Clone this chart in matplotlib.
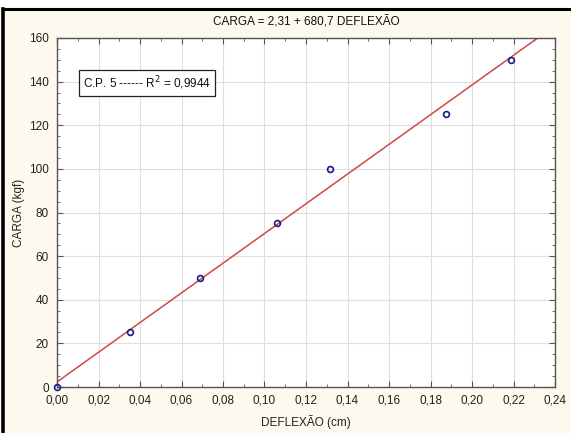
import matplotlib
matplotlib.use("Agg")
import matplotlib.pyplot as plt
from matplotlib.patches import Rectangle
from matplotlib.lines import Line2D
from matplotlib.ticker import MultipleLocator, FuncFormatter

plt.rcParams["font.family"] = ["Liberation Sans", "DejaVu Sans"]

# data
deflexao = [0.0, 0.035, 0.069, 0.106, 0.1315, 0.1875, 0.219]
carga = [0, 25, 50, 75, 100, 125, 150]
intercept = 2.31
slope = 680.7
fit_x = [0.0, 0.24]

title = "CARGA = 2,31 + 680,7 DEFLEXÃO"
legend_text = "C.P. 5 ------ R$^2$ = 0,9944"

W, H = 571, 433
fig = plt.figure(figsize=(W / 100, H / 100), dpi=100)
fig.patch.set_facecolor("white")

# cream panel with black edge on top and left
fig.patches.append(Rectangle((5 / W, 0), 1, 1 - 10 / H, transform=fig.transFigure,
                             facecolor="#fdf9ee", edgecolor="none", zorder=-2))
fig.lines.append(Line2D([4 / W, 1], [1 - 9 / H, 1 - 9 / H], transform=fig.transFigure,
                        color="black", lw=2.2, zorder=-1))
fig.lines.append(Line2D([3 / W, 3 / W], [0, 1 - 9 / H], transform=fig.transFigure,
                        color="black", lw=2.6, zorder=-1))

ax = fig.add_axes([57 / W, 1 - 387 / H, (555 - 57) / W, (387 - 38) / H])
ax.set_zorder(1)
ax.set_facecolor("white")

fit_y = [intercept + slope * x for x in fit_x]
ax.plot(fit_x, fit_y, color="#d04848", lw=1.1, zorder=2)
ax.plot(deflexao, carga, "o", mfc="none", mec="#1a1a8c", mew=1.2, ms=4.2, zorder=3,
        clip_on=False)

ax.set_xlim(0, 0.24)
ax.set_ylim(0, 160)
ax.xaxis.set_major_locator(MultipleLocator(0.02))
ax.yaxis.set_major_locator(MultipleLocator(20))
ax.xaxis.set_minor_locator(MultipleLocator(0.01))
ax.yaxis.set_minor_locator(MultipleLocator(5))
ax.xaxis.set_major_formatter(FuncFormatter(lambda v, p: f"{v:.2f}".replace(".", ",")))
ax.yaxis.set_major_formatter(FuncFormatter(lambda v, p: f"{v:.0f}"))
ax.grid(True, which="major", color="#dedede", lw=0.8)
ax.set_axisbelow(True)
ax.tick_params(which="both", direction="in", top=True, right=True, colors="#555555",
               labelcolor="#222222", labelsize=8.5)
ax.tick_params(axis="x", pad=5.5)
ax.tick_params(axis="y", pad=6)
ax.tick_params(which="major", length=4)
ax.tick_params(which="minor", length=2)
for s in ax.spines.values():
    s.set_color("#555555")
    s.set_linewidth(1.0)

ax.set_title(title, fontsize=8.5, color="#111111", pad=9)
ax.set_xlabel("DEFLEXÃO (cm)", fontsize=8.5, color="#222222", labelpad=6)
ax.set_ylabel("CARGA (kgf)", fontsize=8.5, color="#222222", labelpad=3)

ax.text(0.052, 0.870, legend_text, transform=ax.transAxes, fontsize=8.5,
        color="#111111", va="center", ha="left",
        bbox=dict(boxstyle="square,pad=0.35", fc="white", ec="#222222", lw=0.9))

fig.savefig("out.png", dpi=100, facecolor=fig.get_facecolor())
